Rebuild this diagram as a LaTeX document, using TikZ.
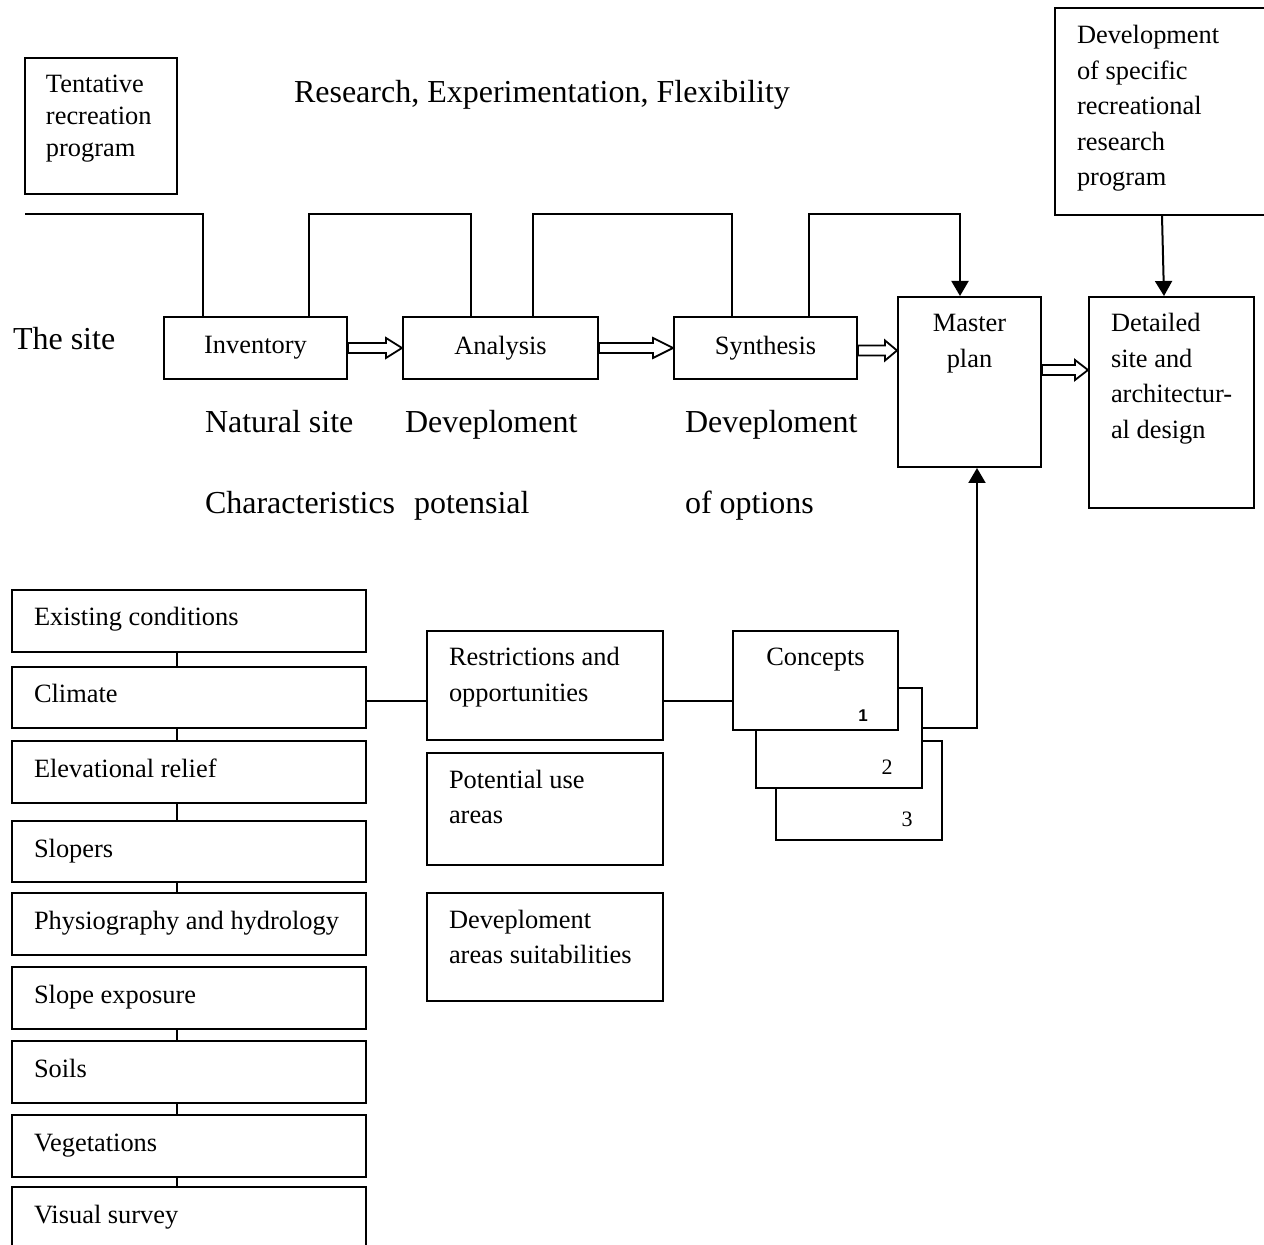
\documentclass[tikz,border=0pt]{standalone}
\usepackage{fontspec}
\setmainfont{Liberation Serif}
\setsansfont{Liberation Sans}
\usepackage{tikz}
\usetikzlibrary{arrows.meta, calc, fit}

\newcommand{\boxfont}{\fontsize{13.2}{17.75}\selectfont}
\newcommand{\bigfont}{\fontsize{16}{19}\selectfont}
% hollow block arrow: start, tip, head length
\newcommand{\fatarrow}[3]{%
  \draw[line width=0.9pt, line join=miter]
    ($(#1)+(0,-5)$) -- ($(#2)+(-#3,-5)$) -- ($(#2)+(-#3,-10)$) -- (#2)
    -- ($(#2)+(-#3,10)$) -- ($(#2)+(-#3,5)$) -- ($(#1)+(0,5)$) -- cycle;}

\begin{document}
\begin{tikzpicture}[x=0.5pt, y=-0.5pt, line width=1pt,
  box/.style={draw, inner sep=0pt, fill=white},
  txt/.style={inner sep=0pt, anchor=base west, align=left, font=\boxfont},
  big/.style={inner sep=0pt, anchor=base west, font=\bigfont},
  tip/.style={-{Triangle[length=7.5pt, width=8.5pt]}}
]
  \useasboundingbox (0,0) rectangle (1264,1245);
  \clip (0,0) rectangle (1264,1245);

  % top row (base anchor sits on the last line)
  \node[box, fit={(25,58) (177,194)}] (tent) {};
  \node[txt, font=\fontsize{13.2}{16}\selectfont] (tent-t) at (45,157) {Tentative\\recreation\\program};
  \node[box, fit={(1055,8) (1275,215)}] (dev) {};
  \node[txt] (dev-t) at (1076,186) {Development\\of specific\\recreational\\research\\program};
  \node[big] (title) at (293,103) {Research, Experimentation, Flexibility};

  % process chain
  \node[big] (site) at (12,350) {The site};
  \node[box, fit={(164,317) (347,379)}] (inv) {};
  \node[font=\boxfont] (inv-t) at (inv.center) {Inventory};
  \node[box, fit={(403,317) (598,379)}] (ana) {};
  \node[font=\boxfont] (ana-t) at (ana.center) {Analysis};
  \node[box, fit={(674,317) (857,379)}] (syn) {};
  \node[font=\boxfont] (syn-t) at (syn.center) {Synthesis};
  \node[box, fit={(898,297) (1041,467)}] (mas) {};
  \node[txt, anchor=base, align=center] (mas-t) at (969.5,367.5) {Master\\plan};
  \node[box, fit={(1089,297) (1254,508)}] (det) {};
  \node[txt] (det-t) at (1110,438.5) {Detailed\\site and\\architectur-\\al design};

  \node[big] (nat) at (204,433) {Natural site};
  \node[big] (cha) at (204,514) {Characteristics};
  \node[big] (dvp) at (404,433) {Deveploment};
  \node[big] (pot-l) at (413,514) {potensial};
  \node[big] (dvo) at (684,433) {Deveploment};
  \node[big] (opt) at (684,514) {of options};

  \coordinate (siteline) at (25,214);
  \draw (siteline) -| (inv.north -| 203,0);
  \draw (inv.north -| 309,0) -- (309,214) -- (471,214) -- (ana.north -| 471,0);
  \draw (ana.north -| 533,0) -- (533,214) -- (732,214) -- (syn.north -| 732,0);
  \draw[tip] (syn.north -| 809,0) -- (809,214) -- (960,214) -- (mas.north -| 960,0);
  \draw[tip] (dev.south -| 1162,0) -- (det.north -| 1164,0);

  \fatarrow{inv.east}{ana.west}{16}
  \fatarrow{ana.east}{syn.west}{20}
  \fatarrow{syn.east |- 0,350.5}{mas.west |- 0,350.5}{12}
  \fatarrow{mas.east |- 0,370}{det.west |- 0,370}{13}

  % survey column
  \foreach \name/\top/\bot/\label in {exi/590/652/Existing conditions,
      cli/667/728/Climate, ele/741/803/Elevational relief, slo/821/882/Slopers,
      phy/893/955/Physiography and hydrology, sle/967/1029/Slope exposure,
      soi/1041/1103/Soils, veg/1115/1177/Vegetations, vis/1187/1260/Visual survey} {
    \node[box, fit={(12,\top) (366,\bot)}] (\name) {};
    \node[txt] (\name-t) at (33,\top+36) {\label};
  }
  \foreach \a/\b in {exi/cli, cli/ele, ele/slo, slo/phy, sle/soi, soi/veg, veg/vis}
    \draw (\a.south -| 177,0) -- (\b.north -| 177,0);

  % middle column
  \node[box, fit={(427,631) (663,740)}] (res) {};
  \node[txt] (res-t) at (448,701.5) {Restrictions and\\opportunities};
  \node[box, fit={(427,753) (663,865)}] (pot) {};
  \node[txt] (pot-t) at (448,823.5) {Potential use\\areas};
  \node[box, fit={(427,893) (663,1001)}] (dea) {};
  \node[txt] (dea-t) at (448,963.5) {Deveploment\\areas suitabilities};

  % concepts
  \draw[tip] (922,728) -| (mas.south -| 977,0);
  \node[box, fit={(776,741) (942,840)}] (con3) {};
  \node[box, fit={(756,688) (922,788)}] (con2) {};
  \node[box, fit={(733,631) (898,730)}] (con1) {};
  \node[txt, anchor=base] (con-t) at (815.5,666) {Concepts};
  \node[txt, anchor=base, font=\sffamily\bfseries\fontsize{8.5}{10}\selectfont] (n1) at (863,721) {1};
  \node[txt, anchor=base, font=\fontsize{11}{13}\selectfont] (n2) at (887,774) {2};
  \node[txt, anchor=base, font=\fontsize{11}{13}\selectfont] (n3) at (907,826) {3};

  \draw (cli.east |- 0,701) -- (res.west |- 0,701);
  \draw (res.east |- 0,701) -- (con1.west |- 0,701);
\end{tikzpicture}
\end{document}
